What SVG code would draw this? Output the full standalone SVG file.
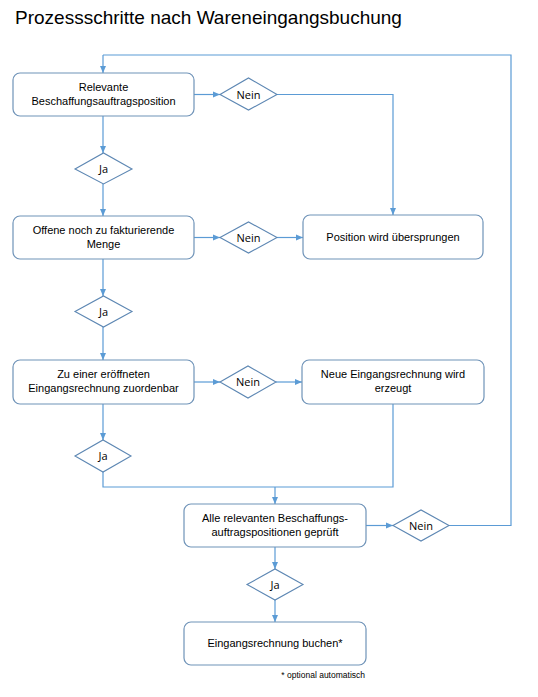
<svg xmlns="http://www.w3.org/2000/svg" width="538" height="697" viewBox="0 0 538 697">
<style>
.box{fill:#fff;stroke:#6f93b8;stroke-width:1.2}
.dia{fill:#fff;stroke:#5d87b3;stroke-width:1.1}
.t{font-family:"Liberation Sans",Arial,sans-serif;font-size:11px;fill:#000;text-anchor:middle}
.d{font-family:"Open Sans","Liberation Sans",sans-serif;font-size:11px;fill:#000;text-anchor:middle}
.c{fill:none;stroke:#5b9bd5;stroke-width:1.2}
</style>
<defs>
<marker id="ah" markerWidth="8" markerHeight="8" refX="7" refY="4" orient="auto" markerUnits="userSpaceOnUse">
<path d="M0,1 L7,4 L0,7 z" fill="#5b9bd5"/>
</marker>
</defs>
<rect width="538" height="697" fill="#fff"/>
<text x="15" y="24" font-family="'Liberation Sans',Arial,sans-serif" font-size="19" fill="#000">Prozessschritte nach Wareneingangsbuchung</text>
<g id="connectors">
<path class="c" d="M103,55 V73" marker-end="url(#ah)"/>
<path class="c" d="M194,94.5 H220" marker-end="url(#ah)"/>
<path class="c" d="M277,94.5 H393 V215" marker-end="url(#ah)"/>
<path class="c" d="M103,116 V153" marker-end="url(#ah)"/>
<path class="c" d="M103,184 V216" marker-end="url(#ah)"/>
<path class="c" d="M194,237.5 H220" marker-end="url(#ah)"/>
<path class="c" d="M277,237.5 H303" marker-end="url(#ah)"/>
<path class="c" d="M103,259 V296" marker-end="url(#ah)"/>
<path class="c" d="M103,327 V360" marker-end="url(#ah)"/>
<path class="c" d="M194,382 H220" marker-end="url(#ah)"/>
<path class="c" d="M276,382 H302" marker-end="url(#ah)"/>
<path class="c" d="M103,404 V440" marker-end="url(#ah)"/>
<path class="c" d="M103,472 V487 H393 V404"/>
<path class="c" d="M275,487 V504" marker-end="url(#ah)"/>
<path class="c" d="M366,525.5 H393" marker-end="url(#ah)"/>
<path class="c" d="M449,525.5 H511 V55 H103"/>
<path class="c" d="M275,547 V569" marker-end="url(#ah)"/>
<path class="c" d="M275,600 V622" marker-end="url(#ah)"/>
</g>
<g id="n1"><rect class="box" x="13" y="73" width="181" height="43" rx="7"/><text class="t" x="103.5" y="91">Relevante</text><text class="t" x="103.5" y="105">Beschaffungsauftragsposition</text></g>
<g id="d1"><polygon class="dia" points="220,94.5 248.5,78 277,94.5 248.5,110"/><text class="d" x="248.5" y="98.5">Nein</text></g>
<g id="j1"><polygon class="dia" points="75,169 103.5,153 132,169 103.5,184"/><text class="d" x="103.5" y="173">Ja</text></g>
<g id="n2"><rect class="box" x="13" y="216" width="181" height="43" rx="7"/><text class="t" x="103.5" y="234">Offene noch zu fakturierende</text><text class="t" x="103.5" y="248">Menge</text></g>
<g id="d2"><polygon class="dia" points="220,237.5 248.5,222 277,237.5 248.5,253"/><text class="d" x="248.5" y="241.5">Nein</text></g>
<g id="n3"><rect class="box" x="303" y="215" width="180" height="44" rx="7"/><text class="t" x="393" y="241">Position wird übersprungen</text></g>
<g id="j2"><polygon class="dia" points="75,311.5 103.5,296 132,311.5 103.5,327"/><text class="d" x="103.5" y="315.5">Ja</text></g>
<g id="n4"><rect class="box" x="13" y="360" width="181" height="44" rx="7"/><text class="t" x="103.5" y="378">Zu einer eröffneten</text><text class="t" x="103.5" y="392">Eingangsrechnung zuordenbar</text></g>
<g id="d3"><polygon class="dia" points="220,382 248,366 276,382 248,398"/><text class="d" x="248" y="386">Nein</text></g>
<g id="n5"><rect class="box" x="302" y="360" width="182" height="44" rx="7"/><text class="t" x="393" y="378">Neue Eingangsrechnung wird</text><text class="t" x="393" y="392">erzeugt</text></g>
<g id="j3"><polygon class="dia" points="75,456 103,440 131,456 103,472"/><text class="d" x="103" y="460">Ja</text></g>
<g id="n6"><rect class="box" x="184" y="504" width="182" height="43" rx="7"/><text class="t" x="275" y="522">Alle relevanten Beschaffungs-</text><text class="t" x="275" y="536">auftragspositionen geprüft</text></g>
<g id="d4"><polygon class="dia" points="393,525.5 421,510 449,525.5 421,541"/><text class="d" x="421" y="529.5">Nein</text></g>
<g id="j4"><polygon class="dia" points="247,584.5 275,569 303,584.5 275,600"/><text class="d" x="275" y="588.5">Ja</text></g>
<g id="n7"><rect class="box" x="184" y="622" width="182" height="43" rx="7"/><text class="t" x="275" y="647">Eingangsrechnung buchen*</text></g>
<text x="365" y="678" font-family="'Liberation Sans',Arial,sans-serif" font-size="8.5" text-anchor="end" fill="#000">* optional automatisch</text>
</svg>
